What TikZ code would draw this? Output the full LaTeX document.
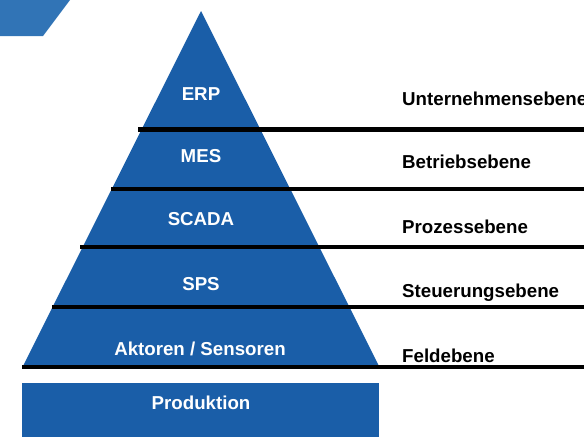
\documentclass[tikz,border=0pt]{standalone}
\usepackage{fontspec}
\setmainfont{Liberation Sans}
\usetikzlibrary{positioning}
\usetikzlibrary{calc}
\definecolor{pyramid_blue}{HTML}{1A5EA8}
\definecolor{corner_blue}{HTML}{3174B6}

\begin{document}
\begin{tikzpicture}[
        x=1pt, y=-1pt,
        layertext/.style={text=white, font=\bfseries\fontsize{18.7}{20}\selectfont, inner sep=0, anchor=base},
        leveltext/.style={text=black, font=\bfseries\fontsize{18.7}{20}\selectfont, inner sep=0, anchor=base west},
        levelline/.style={line width=4.8pt},
    ]
    \useasboundingbox (0,0) rectangle (584,437);

    % Corner
    \fill[corner_blue] (0,0) -- (70,0) -- (43,36) -- (0,36) -- cycle;

    % Pyramid
    \coordinate (apex) at (201,11);
    \coordinate (baseleft) at (23,366);
    \coordinate (baseright) at (379,366);
    \fill[pyramid_blue] (apex) -- (baseleft) -- (baseright) -- cycle;

    \node[layertext] (erp) at (201,100) {ERP};
    \node[layertext] (mes) at (201,162) {MES};
    \node[layertext] (scada) at (201,225) {SCADA};
    \node[layertext] (sps) at (201,290) {SPS};
    \node[layertext] (aktoren) at (200,355) {Aktoren / Sensoren};

    % Production
    \fill[pyramid_blue] (22,383) rectangle (379,437);
    \node[layertext] (produktion) at (201,409) {Produktion};

    % Level lines
    \coordinate (erpmesleft) at (138,129.5);
    \coordinate (erpmesright) at (584,129.5);
    \coordinate (messcadaleft) at (111,189);
    \coordinate (messcadaright) at (584,189);
    \coordinate (scadaspsleft) at (80,247);
    \coordinate (scadaspsright) at (584,247);
    \coordinate (spsfeldleft) at (52,307);
    \coordinate (spsfeldright) at (584,307);
    \coordinate (bottomleft) at (22,367);
    \coordinate (bottomright) at (584,367);

    \draw [levelline] (erpmesleft) -- (erpmesright);
    \draw [levelline] (messcadaleft) -- (messcadaright);
    \draw [levelline] (scadaspsleft) -- (scadaspsright);
    \draw [levelline] (spsfeldleft) -- (spsfeldright);
    \draw [levelline] (bottomleft) -- (bottomright);

    % Level names
    \node[leveltext] (unternehmen) at (402,105) {Unternehmensebene};
    \node[leveltext] (betrieb) at (402,168) {Betriebsebene};
    \node[leveltext] (prozess) at (402,233) {Prozessebene};
    \node[leveltext] (steuerung) at (402,297) {Steuerungsebene};
    \node[leveltext] (feld) at (402,362) {Feldebene};

\end{tikzpicture}
\end{document}
